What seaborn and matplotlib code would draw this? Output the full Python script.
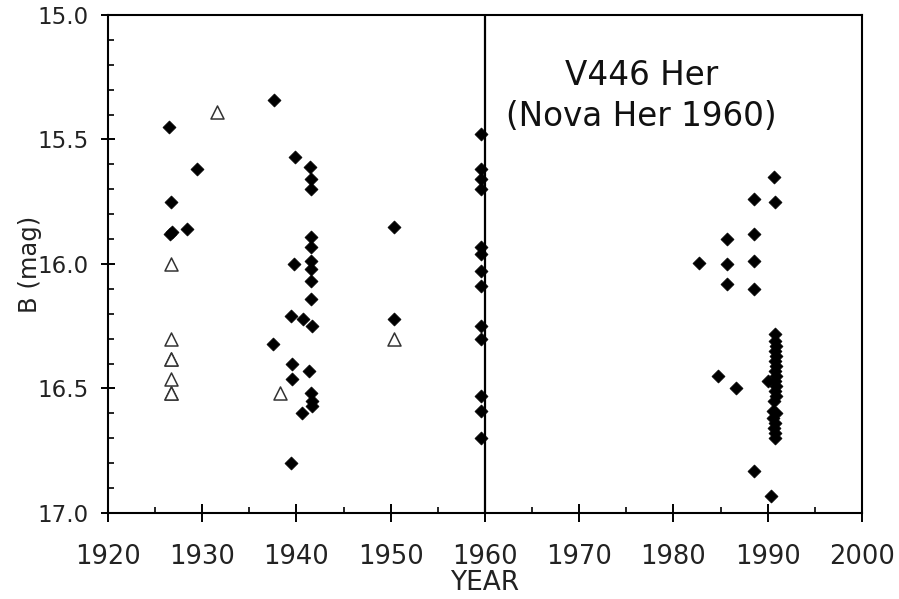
import matplotlib
matplotlib.use("Agg")
import matplotlib.pyplot as plt
from matplotlib.ticker import MultipleLocator
import seaborn as sns
import pandas as pd

# Detections (filled diamonds)
det_year = [
    1926.5, 1926.7, 1926.8, 1926.6, 1928.4, 1929.4,
    1937.6, 1939.8, 1941.4, 1941.5, 1941.5, 1941.5, 1941.5, 1939.7, 1941.5,
    1941.5, 1941.5, 1941.5, 1939.4, 1940.7, 1941.6, 1937.5, 1939.5, 1941.3,
    1939.5, 1941.5, 1941.6, 1941.6, 1940.6, 1939.4,
    1950.3, 1950.3,
    1959.6, 1959.6, 1959.6, 1959.6, 1959.6, 1959.6, 1959.6, 1959.6, 1959.6,
    1959.6, 1959.6, 1959.6, 1959.6,
    1982.7, 1985.7, 1985.7, 1985.7, 1988.5, 1988.5, 1988.5, 1988.5,
    1990.7, 1990.8, 1984.7, 1986.6, 1988.5, 1990.4,
    1990.8, 1990.8, 1990.9, 1990.8, 1990.9, 1990.8, 1990.9, 1990.8, 1990.9,
    1990.0, 1990.8, 1990.9, 1990.8, 1990.9, 1990.7, 1990.6, 1990.9, 1990.6,
    1990.8, 1990.7, 1990.8, 1990.8,
]
det_mag = [
    15.45, 15.75, 15.87, 15.88, 15.86, 15.62,
    15.34, 15.57, 15.61, 15.66, 15.70, 15.89, 15.93, 16.00, 15.99,
    16.02, 16.07, 16.14, 16.21, 16.22, 16.25, 16.32, 16.40, 16.43,
    16.46, 16.52, 16.55, 16.57, 16.60, 16.80,
    15.85, 16.22,
    15.48, 15.62, 15.66, 15.70, 15.93, 15.96, 16.03, 16.09, 16.25,
    16.30, 16.53, 16.59, 16.70,
    15.995, 15.90, 16.00, 16.08, 15.74, 15.88, 15.99, 16.10,
    15.65, 15.75, 16.45, 16.50, 16.83, 16.93,
    16.28, 16.31, 16.33, 16.35, 16.37, 16.39, 16.41, 16.43, 16.45,
    16.47, 16.47, 16.49, 16.51, 16.53, 16.55, 16.59, 16.60, 16.62,
    16.64, 16.66, 16.68, 16.70,
]

# Other measurements (open triangles)
tri_year = [1931.6, 1926.7, 1926.7, 1926.7, 1926.7, 1926.7, 1926.7, 1926.7, 1938.3, 1950.4]
tri_mag = [15.39, 16.00, 16.30, 16.38, 16.38, 16.46, 16.52, 16.52, 16.52, 16.30]

x_ticks = [1920, 1930, 1940, 1950, 1960, 1970, 1980, 1990, 2000]
y_ticks = [15.0, 15.5, 16.0, 16.5, 17.0]
title_lines = ["V446 Her", "(Nova Her 1960)"]
nova_year = 1960

det = pd.DataFrame({"YEAR": det_year, "B": det_mag})
tri = pd.DataFrame({"YEAR": tri_year, "B": tri_mag})

sns.set_style("white")
plt.rcParams["font.family"] = ["DejaVu Sans"]

fig = plt.figure(figsize=(8.99, 5.99), dpi=100)
ax = fig.add_axes([0.1201, 0.1436, 0.8387, 0.8314])

sns.scatterplot(data=det, x="YEAR", y="B", ax=ax, marker="D", s=44,
                color="black", edgecolor="black", linewidth=0.5, zorder=3)
sns.scatterplot(data=tri, x="YEAR", y="B", ax=ax, marker="^", s=88,
                facecolor="white", edgecolor="#333333", linewidth=1.1, zorder=3)

ax.axvline(nova_year, color="black", lw=1.6, zorder=2)

ax.set_xlim(1920, 2000)
ax.set_ylim(17.0, 15.0)
ax.set_xticks(x_ticks)
ax.set_yticks(y_ticks)
ax.set_yticklabels([f"{v:.1f}" for v in y_ticks])
ax.xaxis.set_minor_locator(MultipleLocator(5))
ax.yaxis.set_minor_locator(MultipleLocator(0.1))

ax.tick_params(axis="both", which="major", direction="inout",
               width=1.4, color="black", labelcolor="#222222")
ax.tick_params(axis="x", which="major", length=13, pad=16, labelsize=18.5)
ax.tick_params(axis="y", which="major", length=9.5, pad=9, labelsize=16.5)
ax.tick_params(axis="both", which="minor", direction="in", length=4.5,
               width=1.2, color="black")
ax.tick_params(left=True, bottom=True, which="both")

for sp in ax.spines.values():
    sp.set_visible(True)
    sp.set_color("black")
    sp.set_linewidth(1.5)

ax.set_xlabel("YEAR", fontsize=19, labelpad=0, color="#222222")
ax.set_ylabel("B (mag)", fontsize=17.5, color="#222222")
ax.yaxis.set_label_coords(-0.0875, 0.5)

ax.text(1976.6, 15.281, title_lines[0], ha="center", va="baseline",
        fontsize=23.5, color="#111111")
ax.text(1976.6, 15.446, title_lines[1], ha="center", va="baseline",
        fontsize=23.5, color="#111111")

fig.savefig("out.png", dpi=100)
